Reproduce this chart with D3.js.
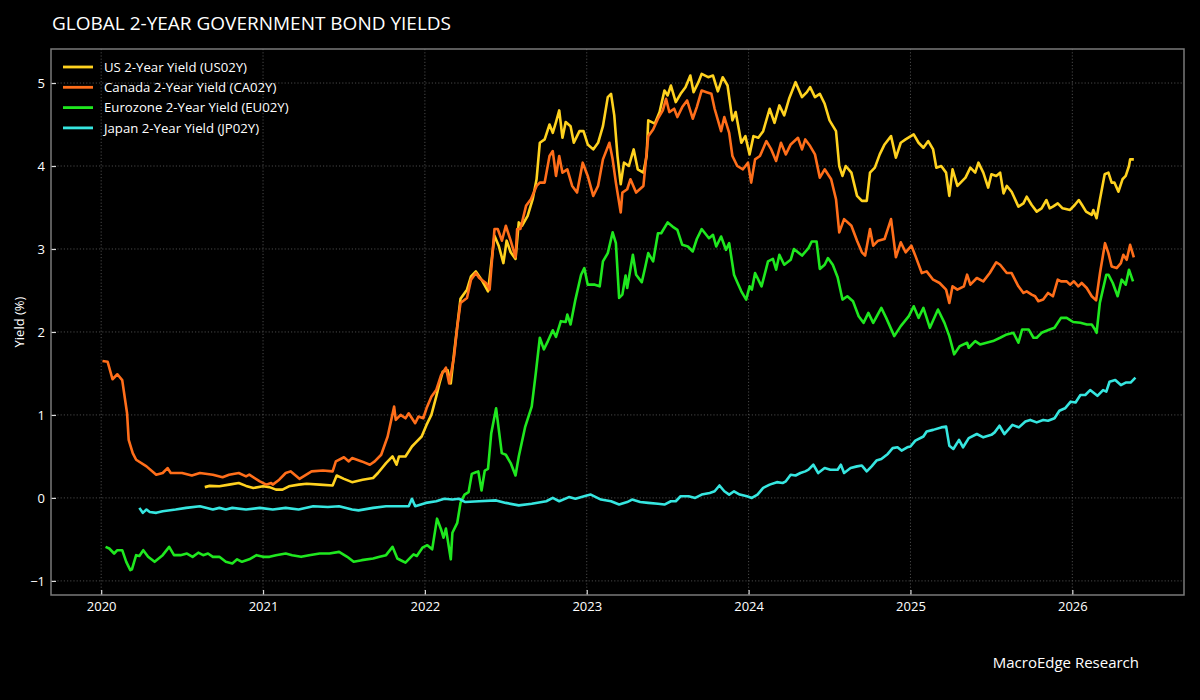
<!DOCTYPE html>
<html>
<head>
<meta charset="utf-8">
<script src="https://cdn.jsdelivr.net/npm/d3@7"></script>
<style>
  html, body { margin: 0; padding: 0; background: #000; }
  svg { display: block; font-family: "Open Sans", sans-serif; }
</style>
</head>
<body>
<div id="chart"></div>
<script>
// series labels and colours (legend order)
const seriesNames = [
  'US 2-Year Yield (US02Y)',
  'Canada 2-Year Yield (CA02Y)',
  'Eurozone 2-Year Yield (EU02Y)',
  'Japan 2-Year Yield (JP02Y)',
];
const seriesColors = [ '#ffd21f', '#ff6e1a', '#1fe81f', '#36e6e0', ];

const yearTicks = [ 2020, 2021, 2022, 2023, 2024, 2025, 2026, ];
const yieldTicks = [ -1, 0, 1, 2, 3, 4, 5, ];

// [decimal year, yield %]
const usData = [
  [2020.64,0.13],[2020.67,0.145],[2020.73,0.14],[2020.79,0.16],[2020.85,0.18],[2020.895,0.145],[2020.94,0.12],
  [2021.00,0.14],[2021.04,0.13],[2021.08,0.10],[2021.12,0.10],[2021.16,0.14],[2021.22,0.16],[2021.27,0.17],
  [2021.35,0.16],[2021.43,0.15],[2021.455,0.27],[2021.50,0.23],[2021.55,0.19],[2021.615,0.22],[2021.68,0.24],
  [2021.71,0.30],[2021.76,0.42],[2021.80,0.50],[2021.825,0.40],[2021.84,0.50],[2021.88,0.50],[2021.92,0.62],
  [2021.94,0.66],[2021.98,0.74],[2022.01,0.88],[2022.04,1.00],[2022.07,1.22],[2022.09,1.38],[2022.11,1.52],
  [2022.14,1.54],[2022.16,1.38],[2022.18,1.74],[2022.20,2.07],[2022.22,2.40],[2022.26,2.51],[2022.285,2.67],
  [2022.315,2.73],[2022.35,2.63],[2022.39,2.49],[2022.43,3.16],[2022.456,3.04],[2022.485,2.83],[2022.505,3.10],
  [2022.53,2.96],[2022.56,2.88],[2022.58,3.32],[2022.60,3.28],[2022.635,3.40],[2022.666,3.60],[2022.69,3.84],
  [2022.71,4.28],[2022.74,4.32],[2022.77,4.50],[2022.79,4.40],[2022.81,4.53],[2022.83,4.67],[2022.85,4.34],
  [2022.87,4.53],[2022.90,4.48],[2022.92,4.28],[2022.955,4.42],[2022.98,4.42],[2023.006,4.26],[2023.04,4.20],
  [2023.07,4.28],[2023.10,4.48],[2023.13,4.83],[2023.15,4.87],[2023.17,4.61],[2023.19,4.12],[2023.21,3.78],
  [2023.23,4.04],[2023.26,4.00],[2023.29,4.20],[2023.315,3.96],[2023.35,3.92],[2023.37,4.12],[2023.38,4.55],
  [2023.42,4.51],[2023.45,4.65],[2023.48,4.91],[2023.50,4.85],[2023.52,4.97],[2023.55,4.77],[2023.58,4.87],
  [2023.61,4.95],[2023.64,5.09],[2023.66,4.89],[2023.69,5.01],[2023.71,5.11],[2023.75,5.07],[2023.78,5.09],
  [2023.81,4.90],[2023.84,5.07],[2023.87,4.97],[2023.90,4.55],[2023.92,4.65],[2023.955,4.28],[2023.98,4.36],
  [2024.006,4.14],[2024.03,4.36],[2024.06,4.34],[2024.09,4.42],[2024.13,4.69],[2024.16,4.52],[2024.19,4.73],
  [2024.22,4.61],[2024.25,4.81],[2024.29,5.01],[2024.33,4.83],[2024.36,4.89],[2024.38,4.95],[2024.41,4.83],
  [2024.44,4.87],[2024.47,4.75],[2024.50,4.55],[2024.54,4.42],[2024.56,4.00],[2024.58,3.88],[2024.60,4.00],
  [2024.635,3.92],[2024.67,3.64],[2024.70,3.58],[2024.73,3.58],[2024.75,3.92],[2024.78,3.98],[2024.81,4.14],
  [2024.84,4.26],[2024.88,4.36],[2024.91,4.10],[2024.94,4.28],[2024.97,4.32],[2025.02,4.38],[2025.05,4.28],
  [2025.08,4.22],[2025.11,4.30],[2025.14,4.20],[2025.16,3.98],[2025.19,4.00],[2025.22,3.92],[2025.24,3.64],
  [2025.26,3.96],[2025.29,3.76],[2025.34,3.86],[2025.37,3.98],[2025.40,3.92],[2025.42,4.04],[2025.45,3.92],
  [2025.48,3.74],[2025.50,3.90],[2025.53,3.88],[2025.554,3.92],[2025.575,3.67],[2025.595,3.76],[2025.625,3.69],
  [2025.667,3.51],[2025.698,3.55],[2025.718,3.63],[2025.749,3.53],[2025.78,3.45],[2025.81,3.49],[2025.84,3.59],
  [2025.86,3.49],[2025.88,3.51],[2025.91,3.55],[2025.94,3.49],[2025.986,3.47],[2026.015,3.53],[2026.04,3.59],
  [2026.06,3.53],[2026.085,3.45],[2026.12,3.41],[2026.13,3.47],[2026.15,3.37],[2026.17,3.59],[2026.20,3.90],
  [2026.223,3.92],[2026.243,3.80],[2026.26,3.80],[2026.285,3.69],[2026.31,3.84],[2026.33,3.88],[2026.35,4.00],
  [2026.357,4.08],[2026.38,4.08],
];

const caData = [
  [2020.008,1.65],[2020.04,1.64],[2020.07,1.43],[2020.10,1.49],[2020.13,1.42],[2020.16,1.02],[2020.17,0.70],
  [2020.195,0.54],[2020.216,0.46],[2020.28,0.38],[2020.34,0.28],[2020.38,0.30],[2020.41,0.36],[2020.43,0.30],
  [2020.50,0.30],[2020.56,0.27],[2020.61,0.30],[2020.69,0.28],[2020.75,0.25],[2020.79,0.28],[2020.85,0.30],
  [2020.895,0.26],[2020.915,0.28],[2020.98,0.20],[2021.02,0.16],[2021.05,0.18],[2021.06,0.16],[2021.10,0.22],
  [2021.14,0.30],[2021.17,0.32],[2021.225,0.23],[2021.30,0.32],[2021.37,0.33],[2021.43,0.32],[2021.45,0.44],
  [2021.50,0.49],[2021.53,0.44],[2021.55,0.48],[2021.61,0.44],[2021.66,0.40],[2021.69,0.44],[2021.73,0.52],
  [2021.77,0.74],[2021.81,1.10],[2021.82,0.94],[2021.85,1.00],[2021.88,0.96],[2021.90,1.02],[2021.94,0.90],
  [2021.96,0.98],[2021.99,0.96],[2022.01,1.08],[2022.04,1.22],[2022.07,1.30],[2022.10,1.48],[2022.13,1.57],
  [2022.15,1.38],[2022.18,1.70],[2022.20,2.06],[2022.22,2.35],[2022.26,2.41],[2022.285,2.63],[2022.315,2.71],
  [2022.336,2.65],[2022.377,2.59],[2022.40,2.51],[2022.43,3.24],[2022.45,3.24],[2022.476,3.10],[2022.50,3.28],
  [2022.53,3.10],[2022.56,2.90],[2022.57,3.24],[2022.59,3.24],[2022.625,3.52],[2022.655,3.60],[2022.69,3.76],
  [2022.71,3.80],[2022.74,3.80],[2022.77,4.12],[2022.79,4.18],[2022.81,3.88],[2022.83,4.12],[2022.85,3.92],
  [2022.88,3.96],[2022.91,3.76],[2022.94,3.68],[2022.975,4.04],[2023.006,3.88],[2023.04,3.64],[2023.07,3.76],
  [2023.10,4.08],[2023.14,4.28],[2023.16,4.08],[2023.18,3.80],[2023.21,3.44],[2023.22,3.68],[2023.25,3.72],
  [2023.27,3.84],[2023.305,3.68],[2023.35,3.76],[2023.38,4.36],[2023.41,4.44],[2023.44,4.57],[2023.47,4.67],
  [2023.49,4.81],[2023.51,4.65],[2023.54,4.69],[2023.56,4.59],[2023.59,4.71],[2023.62,4.79],[2023.655,4.57],
  [2023.68,4.71],[2023.71,4.91],[2023.74,4.89],[2023.77,4.87],[2023.79,4.69],[2023.83,4.42],[2023.85,4.59],
  [2023.88,4.40],[2023.90,4.12],[2023.93,4.00],[2023.965,3.96],[2023.996,4.04],[2024.016,3.80],[2024.04,4.08],
  [2024.07,4.12],[2024.11,4.30],[2024.14,4.20],[2024.17,4.06],[2024.20,4.28],[2024.23,4.14],[2024.26,4.26],
  [2024.305,4.34],[2024.33,4.20],[2024.35,4.32],[2024.38,4.24],[2024.41,4.14],[2024.44,3.86],[2024.47,3.96],
  [2024.51,3.84],[2024.54,3.60],[2024.56,3.20],[2024.59,3.36],[2024.635,3.28],[2024.67,3.10],[2024.70,2.96],
  [2024.72,2.92],[2024.75,3.24],[2024.77,3.04],[2024.80,3.10],[2024.84,3.12],[2024.88,3.36],[2024.91,2.90],
  [2024.94,3.08],[2024.97,2.96],[2025.006,3.04],[2025.03,2.92],[2025.07,2.71],[2025.10,2.73],[2025.14,2.63],
  [2025.18,2.59],[2025.22,2.51],[2025.24,2.35],[2025.26,2.55],[2025.29,2.51],[2025.33,2.55],[2025.35,2.69],
  [2025.37,2.57],[2025.41,2.65],[2025.45,2.61],[2025.49,2.71],[2025.53,2.84],[2025.554,2.81],[2025.595,2.71],
  [2025.625,2.71],[2025.667,2.55],[2025.698,2.47],[2025.718,2.49],[2025.749,2.45],[2025.77,2.43],[2025.79,2.37],
  [2025.82,2.39],[2025.85,2.47],[2025.88,2.43],[2025.91,2.63],[2025.93,2.61],[2025.965,2.61],[2025.986,2.57],
  [2026.01,2.61],[2026.037,2.55],[2026.058,2.59],[2026.089,2.53],[2026.12,2.43],[2026.147,2.38],[2026.171,2.71],
  [2026.202,3.07],[2026.223,2.95],[2026.243,2.79],[2026.274,2.77],[2026.30,2.83],[2026.315,2.93],[2026.336,2.87],
  [2026.357,3.05],[2026.38,2.90],
];

const euData = [
  [2020.027,-0.59],[2020.05,-0.61],[2020.08,-0.67],[2020.10,-0.63],[2020.13,-0.63],[2020.155,-0.77],[2020.18,-0.87],
  [2020.19,-0.86],[2020.216,-0.69],[2020.236,-0.70],[2020.26,-0.63],[2020.29,-0.71],[2020.33,-0.77],[2020.38,-0.69],
  [2020.42,-0.59],[2020.45,-0.69],[2020.49,-0.69],[2020.53,-0.67],[2020.565,-0.71],[2020.60,-0.66],[2020.63,-0.69],
  [2020.66,-0.67],[2020.69,-0.71],[2020.73,-0.71],[2020.77,-0.77],[2020.81,-0.79],[2020.84,-0.74],[2020.87,-0.77],
  [2020.915,-0.74],[2020.96,-0.69],[2021.00,-0.71],[2021.04,-0.71],[2021.08,-0.69],[2021.14,-0.67],[2021.18,-0.69],
  [2021.235,-0.71],[2021.285,-0.69],[2021.35,-0.67],[2021.41,-0.67],[2021.47,-0.65],[2021.52,-0.71],[2021.56,-0.77],
  [2021.61,-0.75],[2021.68,-0.73],[2021.72,-0.71],[2021.76,-0.69],[2021.80,-0.59],[2021.83,-0.73],[2021.86,-0.76],
  [2021.88,-0.78],[2021.91,-0.72],[2021.93,-0.68],[2021.95,-0.70],[2021.985,-0.60],[2022.015,-0.57],[2022.045,-0.62],
  [2022.075,-0.25],[2022.10,-0.38],[2022.115,-0.48],[2022.13,-0.37],[2022.16,-0.74],[2022.17,-0.42],[2022.20,-0.30],
  [2022.22,-0.06],[2022.245,0.04],[2022.27,0.07],[2022.29,0.29],[2022.315,0.31],[2022.33,0.32],[2022.35,0.09],
  [2022.37,0.33],[2022.39,0.35],[2022.41,0.78],[2022.44,1.08],[2022.475,0.54],[2022.50,0.52],[2022.53,0.42],
  [2022.56,0.27],[2022.58,0.50],[2022.62,0.86],[2022.66,1.10],[2022.685,1.50],[2022.71,1.93],[2022.735,1.79],
  [2022.76,1.89],[2022.79,2.02],[2022.81,1.94],[2022.84,2.13],[2022.87,2.12],[2022.88,2.21],[2022.90,2.09],
  [2022.93,2.39],[2022.965,2.69],[2022.985,2.77],[2023.006,2.57],[2023.05,2.57],[2023.08,2.55],[2023.10,2.85],
  [2023.13,2.95],[2023.16,3.20],[2023.18,3.07],[2023.20,2.41],[2023.22,2.45],[2023.24,2.68],[2023.25,2.53],
  [2023.285,2.93],[2023.305,2.69],[2023.34,2.60],[2023.36,2.77],[2023.38,2.95],[2023.41,2.85],[2023.44,3.19],
  [2023.46,3.19],[2023.50,3.32],[2023.53,3.27],[2023.56,3.23],[2023.59,3.05],[2023.625,3.03],[2023.655,2.97],
  [2023.68,3.12],[2023.71,3.24],[2023.755,3.13],[2023.78,3.17],[2023.80,3.03],[2023.83,3.15],[2023.86,2.99],
  [2023.88,3.07],[2023.91,2.69],[2023.93,2.60],[2023.955,2.49],[2023.985,2.39],[2024.006,2.55],[2024.02,2.51],
  [2024.04,2.71],[2024.08,2.55],[2024.12,2.85],[2024.15,2.88],[2024.17,2.75],[2024.19,2.93],[2024.22,2.81],
  [2024.26,2.87],[2024.28,3.00],[2024.33,2.92],[2024.37,3.01],[2024.39,3.09],[2024.42,3.09],[2024.44,2.76],
  [2024.47,2.81],[2024.49,2.89],[2024.52,2.81],[2024.55,2.66],[2024.58,2.39],[2024.61,2.43],[2024.645,2.37],
  [2024.68,2.19],[2024.71,2.11],[2024.74,2.23],[2024.77,2.11],[2024.82,2.29],[2024.85,2.17],[2024.90,1.95],
  [2024.94,2.07],[2024.99,2.19],[2025.02,2.31],[2025.05,2.17],[2025.08,2.29],[2025.12,2.05],[2025.17,2.27],
  [2025.21,2.11],[2025.24,1.95],[2025.27,1.73],[2025.305,1.83],[2025.35,1.87],[2025.36,1.81],[2025.40,1.89],
  [2025.43,1.85],[2025.47,1.87],[2025.51,1.89],[2025.554,1.93],[2025.595,1.97],[2025.636,1.99],[2025.667,1.87],
  [2025.69,2.03],[2025.73,2.03],[2025.76,1.93],[2025.78,1.93],[2025.81,1.99],[2025.86,2.03],[2025.89,2.05],
  [2025.93,2.17],[2025.965,2.17],[2026.005,2.12],[2026.05,2.11],[2026.09,2.09],[2026.12,2.09],[2026.14,2.03],
  [2026.15,1.99],[2026.17,2.35],[2026.21,2.69],[2026.223,2.69],[2026.25,2.59],[2026.28,2.43],[2026.305,2.63],
  [2026.33,2.57],[2026.35,2.75],[2026.375,2.61],
];

const jpData = [
  [2020.236,-0.12],[2020.257,-0.18],[2020.28,-0.14],[2020.30,-0.17],[2020.34,-0.18],[2020.38,-0.16],[2020.46,-0.14],
  [2020.525,-0.12],[2020.61,-0.10],[2020.69,-0.14],[2020.73,-0.12],[2020.77,-0.14],[2020.81,-0.12],[2020.895,-0.14],
  [2020.98,-0.12],[2021.06,-0.14],[2021.14,-0.12],[2021.22,-0.14],[2021.31,-0.10],[2021.40,-0.11],[2021.47,-0.10],
  [2021.55,-0.14],[2021.59,-0.15],[2021.68,-0.12],[2021.76,-0.10],[2021.84,-0.10],[2021.90,-0.10],[2021.92,-0.01],
  [2021.94,-0.10],[2022.006,-0.06],[2022.07,-0.04],[2022.12,-0.01],[2022.17,-0.02],[2022.21,-0.01],[2022.25,-0.05],
  [2022.335,-0.04],[2022.44,-0.03],[2022.50,-0.06],[2022.58,-0.09],[2022.66,-0.07],[2022.75,-0.04],[2022.79,0.00],
  [2022.83,-0.04],[2022.89,0.01],[2022.93,-0.01],[2023.00,0.03],[2023.025,0.04],[2023.088,-0.02],[2023.15,-0.04],
  [2023.20,-0.08],[2023.25,-0.05],[2023.28,-0.02],[2023.33,-0.05],[2023.38,-0.06],[2023.44,-0.07],[2023.48,-0.08],
  [2023.52,-0.04],[2023.55,-0.04],[2023.58,0.02],[2023.63,0.02],[2023.67,0.00],[2023.71,0.04],[2023.76,0.06],
  [2023.79,0.08],[2023.82,0.15],[2023.85,0.08],[2023.88,0.04],[2023.91,0.08],[2023.945,0.04],[2023.99,0.02],
  [2024.02,0.00],[2024.055,0.04],[2024.09,0.12],[2024.13,0.16],[2024.175,0.19],[2024.21,0.18],[2024.23,0.20],
  [2024.26,0.28],[2024.29,0.27],[2024.32,0.30],[2024.35,0.32],[2024.37,0.34],[2024.40,0.40],[2024.43,0.30],
  [2024.47,0.36],[2024.505,0.34],[2024.55,0.34],[2024.57,0.40],[2024.59,0.30],[2024.63,0.36],[2024.67,0.38],
  [2024.70,0.39],[2024.73,0.32],[2024.76,0.38],[2024.79,0.45],[2024.82,0.47],[2024.86,0.53],[2024.89,0.60],
  [2024.92,0.61],[2024.945,0.57],[2024.98,0.61],[2025.00,0.62],[2025.03,0.69],[2025.08,0.74],[2025.10,0.80],
  [2025.14,0.82],[2025.19,0.85],[2025.22,0.86],[2025.24,0.63],[2025.265,0.59],[2025.30,0.70],[2025.325,0.61],
  [2025.36,0.72],[2025.41,0.77],[2025.45,0.73],[2025.50,0.76],[2025.52,0.79],[2025.55,0.87],[2025.58,0.77],
  [2025.63,0.88],[2025.67,0.85],[2025.71,0.92],[2025.74,0.94],[2025.78,0.91],[2025.82,0.94],[2025.85,0.93],
  [2025.89,0.96],[2025.92,1.05],[2025.955,1.08],[2025.99,1.16],[2026.02,1.15],[2026.05,1.24],[2026.08,1.24],
  [2026.11,1.30],[2026.155,1.23],[2026.19,1.30],[2026.21,1.28],[2026.23,1.40],[2026.265,1.42],[2026.30,1.36],
  [2026.33,1.39],[2026.36,1.39],[2026.39,1.45],
];

const seriesData = [ usData, caData, euData, jpData, ];

const width = 1200;
const height = 700;
const margin = { top: 49, right: 16, bottom: 105, left: 51, };
const innerW = width - margin.left - margin.right;
const innerH = height - margin.top - margin.bottom;

const svg = d3.select('#chart').append('svg')
  .attr('width', width)
  .attr('height', height)
  .style('background', '#000');

svg.append('text')
  .attr('x', 52)
  .attr('y', 30)
  .attr('fill', '#fff')
  .attr('font-size', 19)
  .text('GLOBAL 2-YEAR GOVERNMENT BOND YIELDS');

const g = svg.append('g')
  .attr('transform', `translate(${margin.left},${margin.top})`);

// scales (domains padded like the original's auto margins)
const x = d3.scaleLinear()
  .domain([ 2019.69, 2026.69, ])
  .range([ 0, innerW, ]);
const y = d3.scaleLinear()
  .domain([ -1.17, 5.41, ])
  .range([ innerH, 0, ]);

// dotted grid
g.append('g').selectAll('line')
  .data(yearTicks)
  .join('line')
  .attr('x1', d => x(d)).attr('x2', d => x(d))
  .attr('y1', 0).attr('y2', innerH)
  .attr('stroke', '#5a5a5a')
  .attr('stroke-width', 0.8)
  .attr('stroke-dasharray', '1.2,2');
g.append('g').selectAll('line')
  .data(yieldTicks)
  .join('line')
  .attr('x1', 0).attr('x2', innerW)
  .attr('y1', d => y(d)).attr('y2', d => y(d))
  .attr('stroke', '#5a5a5a')
  .attr('stroke-width', 0.8)
  .attr('stroke-dasharray', '1.2,2');

// axes, ticks pointing inward
const xAxis = g.append('g')
  .attr('transform', `translate(0,${innerH})`)
  .call(d3.axisBottom(x).tickValues(yearTicks).tickFormat(d3.format('d'))
    .tickSizeInner(-5).tickSizeOuter(0).tickPadding(7));
const yAxis = g.append('g')
  .call(d3.axisLeft(y).tickValues(yieldTicks).tickFormat(d => d < 0 ? '\u2212' + Math.abs(d) : d)
    .tickSizeInner(-5).tickSizeOuter(0).tickPadding(6));

[ xAxis, yAxis, ].forEach(ax => {
  ax.select('.domain').remove();
  ax.selectAll('.tick line').attr('stroke', '#ddd').attr('stroke-width', 1.2);
  ax.selectAll('.tick text')
    .attr('fill', '#fff')
    .attr('font-size', 13)
    .attr('font-family', '"Open Sans", sans-serif');
});

// frame
g.append('rect')
  .attr('width', innerW)
  .attr('height', innerH)
  .attr('fill', 'none')
  .attr('stroke', '#7a7a7a')
  .attr('stroke-width', 1.5);

// lines
const line = d3.line()
  .x(d => x(d[0]))
  .y(d => y(d[1]));

g.append('g').selectAll('path')
  .data(seriesData)
  .join('path')
  .attr('d', line)
  .attr('fill', 'none')
  .attr('stroke', (d, i) => seriesColors[i])
  .attr('stroke-width', 2.6)
  .attr('stroke-linejoin', 'round');

// legend
const legend = g.append('g')
  .attr('transform', 'translate(12,18)');
const rows = legend.selectAll('g')
  .data(seriesNames)
  .join('g')
  .attr('transform', (d, i) => `translate(0,${i * 20.3})`);
rows.append('line')
  .attr('x1', 0).attr('x2', 30)
  .attr('stroke', (d, i) => seriesColors[i])
  .attr('stroke-width', 2.8);
rows.append('text')
  .attr('x', 41)
  .attr('dy', '0.35em')
  .attr('fill', '#fff')
  .attr('font-size', 13.2)
  .text(d => d);

// y label
svg.append('text')
  .attr('transform', `translate(24,${margin.top + innerH / 2}) rotate(-90)`)
  .attr('text-anchor', 'middle')
  .attr('fill', '#fff')
  .attr('font-size', 13)
  .text('Yield (%)');

svg.append('text')
  .attr('x', 1139)
  .attr('y', 668)
  .attr('text-anchor', 'end')
  .attr('fill', '#fff')
  .attr('font-size', 15)
  .text('MacroEdge Research');
</script>
</body>
</html>
